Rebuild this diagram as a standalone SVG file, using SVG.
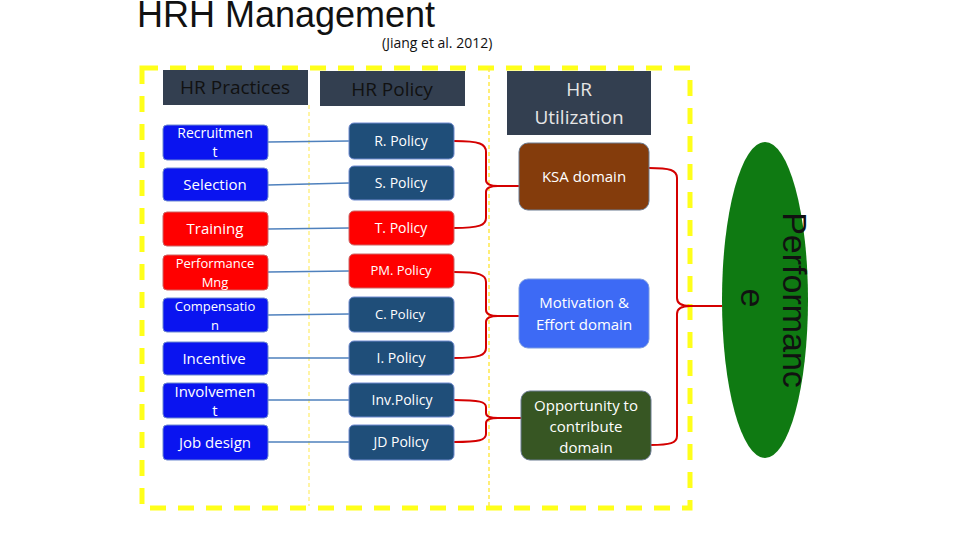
<svg xmlns="http://www.w3.org/2000/svg" width="960" height="540" viewBox="0 0 960 540">
<style>
text{font-family:"Open Sans","DejaVu Sans",sans-serif;text-anchor:middle}
.hd{fill:#333f50}
.hdt{fill:#111;font-size:19px}
.nt{fill:#fff;font-size:15px}
.st{fill:#fff;font-size:13px}
.blue{fill:#0a14f0;stroke:#6f8ad0;stroke-width:1}
.red{fill:#ff0000;stroke:#c66;stroke-width:1}
.pol{fill:#1f4e79;stroke:#6f8ad0;stroke-width:1}
.ln{stroke:#4f81bd;stroke-width:1.5;fill:none}
.br{stroke:#d40000;stroke-width:2;fill:none}
</style>
<rect width="960" height="540" fill="#fff"/>
<text x="137" y="27" style="font-size:36px;text-anchor:start;fill:#111;font-family:'Liberation Sans','Open Sans',sans-serif">HRH Management</text>
<text x="382" y="48" style="font-size:14px;text-anchor:start;fill:#111">(Jiang et al. 2012)</text>
<rect x="142" y="68" width="548" height="440" fill="none" stroke="#ffff1a" stroke-width="5" stroke-dasharray="16,12"/>
<line x1="309" y1="105" x2="309" y2="506" stroke="#ffe94a" stroke-width="1" stroke-dasharray="4,3"/>
<line x1="489" y1="68" x2="489" y2="506" stroke="#ffe94a" stroke-width="1.5" stroke-dasharray="4,3"/>
<g id="hdr-practices"><rect class="hd" x="163" y="70" width="145" height="35"/><text class="hdt" x="235" y="94">HR Practices</text></g>
<g id="hdr-policy"><rect class="hd" x="320" y="71" width="145" height="35"/><text class="hdt" x="392" y="96">HR Policy</text></g>
<g id="hdr-util"><rect class="hd" x="507" y="71" width="144" height="64"/><text class="hdt" x="579" y="96" style="fill:#e6e6e6">HR</text><text class="hdt" x="579" y="124" style="fill:#e6e6e6">Utilization</text></g>
<g id="connectors">
<path class="ln" d="M268 142 L349 141 M268 185 L349 183 M268 229 L349 228 M268 272 L349 271 M268 315 L349 314 M268 358 L349 358 M268 400 L349 400 M268 442 L349 442"/>
<path class="br" d="M454 141 C480 141 486 144 486 152 L486 180 Q486 186 498 186 L519 186 M454 228 C480 228 486 225 486 218 L486 192 Q486 186 498 186"/>
<path class="br" d="M454 272 C480 272 486 275 486 282 L486 310 Q486 316 498 316 L519 316 M454 358 C480 358 486 355 486 348 L486 322 Q486 316 498 316"/>
<path class="br" d="M454 400 C480 400 486 402 486 407 L486 413 Q486 418 498 418 L521 418 M454 442 C480 442 486 440 486 434 L486 423 Q486 418 498 418"/>
<path class="br" stroke-width="3" d="M649 168 C670 168 677 170 677 178 L677 298 Q677 306 690 306 L722 306 M651 445 C670 445 677 443 677 436 L677 314 Q677 306 690 306"/>
</g>
<g id="n-recruit"><rect class="blue" x="163" y="125" width="105" height="35" rx="4"/><text class="st" x="215" y="138" style="font-size:14px">Recruitmen</text><text class="st" x="215" y="157" style="font-size:14px">t</text></g>
<g id="n-select"><rect class="blue" x="163" y="168" width="105" height="33" rx="4"/><text class="nt" x="215" y="190">Selection</text></g>
<g id="n-train"><rect class="red" x="163" y="212" width="105" height="34" rx="4"/><text class="nt" x="215" y="234">Training</text></g>
<g id="n-perf"><rect class="red" x="163" y="255" width="105" height="35" rx="4"/><text class="st" x="215" y="268">Performance</text><text class="st" x="215" y="287">Mng</text></g>
<g id="n-comp"><rect class="blue" x="163" y="298" width="105" height="34" rx="4"/><text class="st" x="215" y="311">Compensatio</text><text class="st" x="215" y="330">n</text></g>
<g id="n-inc"><rect class="blue" x="163" y="342" width="105" height="33" rx="4"/><text class="nt" x="214" y="364">Incentive</text></g>
<g id="n-inv"><rect class="blue" x="163" y="383" width="105" height="35" rx="4"/><text class="nt" x="215" y="397">Involvemen</text><text class="nt" x="215" y="416">t</text></g>
<g id="n-job"><rect class="blue" x="163" y="425" width="105" height="35" rx="4"/><text class="nt" x="215" y="448">Job design</text></g>
<g id="p-r"><rect class="pol" x="349" y="123" width="105" height="36" rx="5"/><text class="st" x="401" y="146" style="font-size:14px">R. Policy</text></g>
<g id="p-s"><rect class="pol" x="349" y="166" width="105" height="34" rx="5"/><text class="st" x="401" y="188" style="font-size:14px">S. Policy</text></g>
<g id="p-t"><rect class="red" x="349" y="211" width="105" height="34" rx="5"/><text class="st" x="401" y="233" style="font-size:14px">T. Policy</text></g>
<g id="p-pm"><rect class="red" x="349" y="254" width="105" height="34" rx="5"/><text class="st" x="401" y="275">PM. Policy</text></g>
<g id="p-c"><rect class="pol" x="349" y="297" width="105" height="35" rx="5"/><text class="st" x="400" y="319">C. Policy</text></g>
<g id="p-i"><rect class="pol" x="349" y="341" width="105" height="34" rx="5"/><text class="st" x="401" y="363" style="font-size:14px">I. Policy</text></g>
<g id="p-inv"><rect class="pol" x="349" y="383" width="105" height="34" rx="5"/><text class="st" x="402" y="405" style="font-size:14px">Inv.Policy</text></g>
<g id="p-jd"><rect class="pol" x="349" y="425" width="105" height="35" rx="5"/><text class="st" x="401" y="447" style="font-size:14px">JD Policy</text></g>
<g id="u-ksa"><rect x="519" y="143" width="130" height="67" rx="9" fill="#843c0c" stroke="#6a7a90"/><text class="nt" x="584" y="182">KSA domain</text></g>
<g id="u-mot"><rect x="519" y="279" width="130" height="69" rx="9" fill="#3d6af5" stroke="#7a9ae0"/><text class="nt" x="584" y="308">Motivation &amp;</text><text class="nt" x="584" y="330">Effort domain</text></g>
<g id="u-opp"><rect x="521" y="391" width="130" height="69" rx="9" fill="#375623" stroke="#6a7a90"/><text class="nt" x="586" y="411">Opportunity to</text><text class="nt" x="586" y="432">contribute</text><text class="nt" x="586" y="453">domain</text></g>
<g id="perf"><ellipse cx="765" cy="300" rx="43" ry="158" fill="#0f7a12"/>
<g transform="translate(765,300) rotate(90)"><text x="0" y="-18" style="font-size:34px;fill:#111;font-family:'Liberation Sans','Open Sans',sans-serif">Performanc</text><text x="-2" y="24" style="font-size:34px;fill:#111;font-family:'Liberation Sans','Open Sans',sans-serif">e</text></g></g>
</svg>
